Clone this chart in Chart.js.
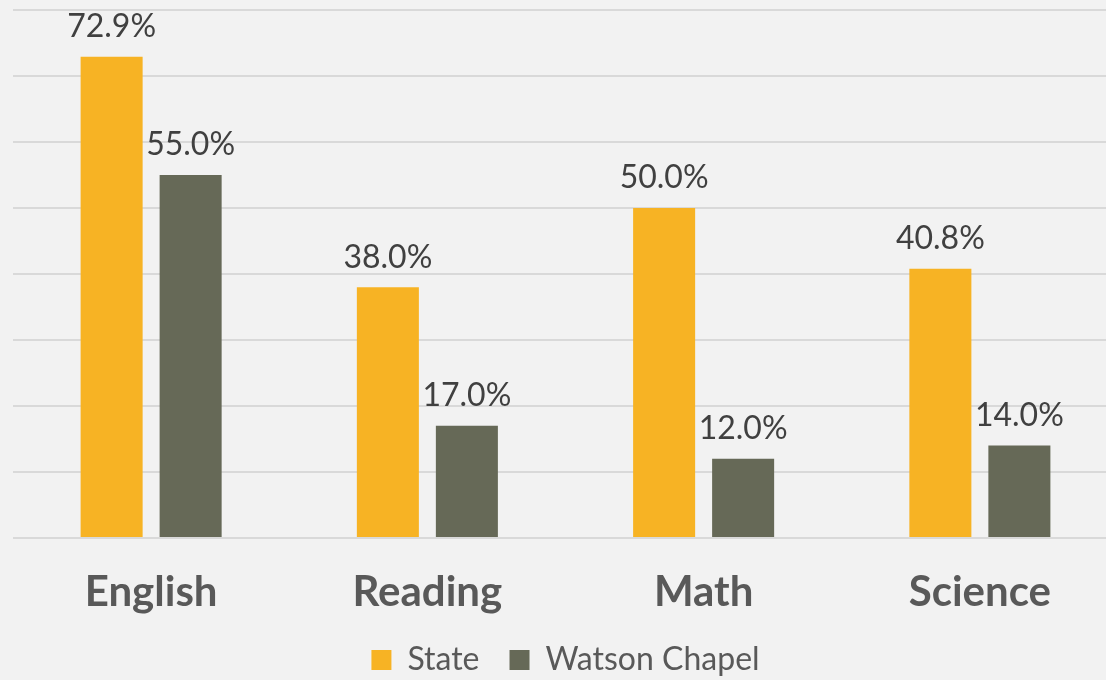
<!DOCTYPE html>
<html>
<head>
<meta charset="utf-8">
<script src="https://cdn.jsdelivr.net/npm/chart.js@4.4.0/dist/chart.umd.min.js"></script>
<style>
    html, body { margin: 0; padding: 0; background: #f2f2f2; overflow: hidden; }
    #wrap { position: absolute; left: 0; top: 0; width: 1142px; height: 680px; }
</style>
</head>
<body>
<div id="wrap"><canvas id="chart"></canvas></div>
<script>
const categories = ['English', 'Reading', 'Math', 'Science'];
const stateValues = [72.9, 38.0, 50.0, 40.8];
const watsonValues = [55.0, 17.0, 12.0, 14.0];
const seriesNames = ['State', 'Watson Chapel'];

const COLORS = {
    state: '#f7b324',
    watson: '#666957',
    grid: '#d9d9d9',
    label: '#404040',
    axis: '#595959',
};

// draws the value above each bar
const valueLabels = {
    id: 'valueLabels',
    afterDatasetsDraw(chart) {
        const { ctx } = chart;
        ctx.save();
        ctx.font = '400 32px Lato, sans-serif';
        ctx.fillStyle = COLORS.label;
        ctx.textAlign = 'center';
        ctx.textBaseline = 'bottom';
        chart.data.datasets.forEach((ds, i) => {
            chart.getDatasetMeta(i).data.forEach((bar, j) => {
                ctx.fillText(ds.data[j].toFixed(1) + '%', bar.x, bar.y - 14);
            });
        });
        ctx.restore();
    }
};

new Chart(document.getElementById('chart'), {
    type: 'bar',
    data: {
        labels: categories,
        datasets: [
            {
                label: seriesNames[0],
                data: stateValues,
                backgroundColor: COLORS.state,
                categoryPercentage: 0.572,
                barPercentage: 0.785,
            },
            {
                label: seriesNames[1],
                data: watsonValues,
                backgroundColor: COLORS.watson,
                categoryPercentage: 0.572,
                barPercentage: 0.785,
            },
        ],
    },
    options: {
        responsive: true,
        maintainAspectRatio: false,
        animation: false,
        layout: { padding: { left: 13, right: 24, top: 10, bottom: -6 } },
        plugins: {
            legend: {
                position: 'bottom',
                labels: {
                    boxWidth: 20,
                    boxHeight: 20,
                    padding: 30,
                    color: COLORS.axis,
                    font: { size: 32, family: 'Lato, sans-serif' },
                },
            },
            tooltip: { enabled: false },
        },
        scales: {
            y: {
                min: 0,
                max: 80,
                ticks: { display: false, stepSize: 10 },
                grid: { color: COLORS.grid, lineWidth: 2, drawTicks: false },
                border: { display: false },
            },
            x: {
                grid: { display: false },
                border: { display: false },
                afterFit: (scale) => { scale.height = 76; },
                ticks: {
                    padding: 21,
                    color: COLORS.axis,
                    font: { size: 42, weight: 'bold', family: 'Lato, sans-serif' },
                },
            },
        },
    },
    plugins: [valueLabels],
});
</script>
</body>
</html>
